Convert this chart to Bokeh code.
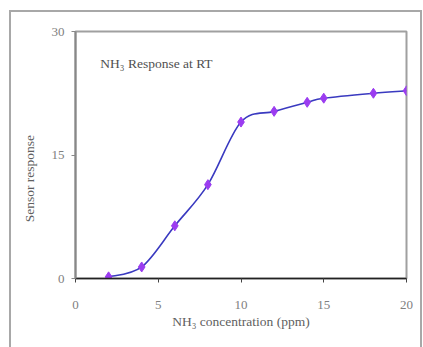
from bokeh.plotting import figure
from bokeh.models import Range1d, FixedTicker, Label, InlineStyleSheet
from bokeh.embed import file_html
from bokeh.resources import INLINE

# data
conc = [2, 4, 6, 8, 10, 12, 14, 15, 18, 20]
response = [0.2, 1.4, 6.4, 11.4, 19.0, 20.3, 21.4, 21.9, 22.5, 22.8]
x_ticks = [0, 5, 10, 15, 20]
y_ticks = [0, 15, 30]

frame_css = InlineStyleSheet(css="""
:host::after {
  content: "";
  position: absolute;
  left: 9px; top: 10px; width: 409px; height: 345px;
  border: 2px solid #a8a8a8;
  pointer-events: none;
  z-index: 10;
}
""")

p = figure(width=423, height=347, output_backend="svg", toolbar_location=None,
           x_range=Range1d(0, 20), y_range=Range1d(0, 30),
           min_border_left=75, min_border_right=17, min_border_top=31, min_border_bottom=69,
           stylesheets=[frame_css])
p.background_fill_color = "white"
p.border_fill_color = "white"
p.outline_line_color = "#a0a0a0"
p.outline_line_width = 2
p.xgrid.visible = False
p.ygrid.visible = False

FONT = "Liberation Serif"

# x axis
xa = p.xaxis[0]
xa.ticker = FixedTicker(ticks=x_ticks)
xa.axis_line_color = "#222222"
xa.axis_line_width = 1.5
xa.major_tick_line_color = "#444444"
xa.major_tick_in = 0
xa.major_tick_out = 4
xa.minor_tick_line_color = None
xa.major_label_standoff = 18
xa.major_label_text_font = FONT
xa.major_label_text_font_size = "13px"
xa.major_label_text_color = "#808080"
xa.axis_label = "NH\u2083 concentration (ppm)"
xa.axis_label_text_font = FONT
xa.axis_label_text_font_size = "13.5px"
xa.axis_label_text_font_style = "normal"
xa.axis_label_text_color = "#606060"
xa.axis_label_standoff = 2

# y axis
ya = p.yaxis[0]
ya.ticker = FixedTicker(ticks=y_ticks)
ya.axis_line_color = "#888888"
ya.axis_line_width = 2
ya.major_tick_line_color = "#888888"
ya.major_tick_in = 0
ya.major_tick_out = 4
ya.minor_tick_line_color = None
ya.major_label_standoff = 7
ya.major_label_text_font = FONT
ya.major_label_text_font_size = "13px"
ya.major_label_text_color = "#808080"
ya.axis_label = "Sensor response" + "\u00a0" * 14
ya.axis_label_text_font = FONT
ya.axis_label_text_font_size = "13.5px"
ya.axis_label_text_font_style = "normal"
ya.axis_label_text_color = "#606060"
ya.axis_label_standoff = 12

# in-plot title
p.add_layout(Label(x=1.5, y=26.1, text="NH\u2083 Response at RT",
                   text_font=FONT, text_font_size="13.5px", text_color="#505050",
                   text_align="left", text_baseline="middle"))

# smoothed curve (Catmull-Rom style Bezier segments between measured points)
n = len(conc)
x0s, y0s, x1s, y1s, cx0, cy0, cx1, cy1 = [], [], [], [], [], [], [], []
for i in range(n - 1):
    xp, yp = (conc[i - 1], response[i - 1]) if i > 0 else (conc[i], response[i])
    xn2, yn2 = (conc[i + 2], response[i + 2]) if i + 2 < n else (conc[i + 1], response[i + 1])
    x0s.append(conc[i]); y0s.append(response[i])
    x1s.append(conc[i + 1]); y1s.append(response[i + 1])
    cx0.append(conc[i] + (conc[i + 1] - xp) / 6.0)
    cy0.append(response[i] + (response[i + 1] - yp) / 6.0)
    cx1.append(conc[i + 1] - (xn2 - conc[i]) / 6.0)
    cy1.append(response[i + 1] - (yn2 - response[i]) / 6.0)

p.bezier(x0=x0s, y0=y0s, x1=x1s, y1=y1s, cx0=cx0, cy0=cy0, cx1=cx1, cy1=cy1,
         line_color="#3a3ac0", line_width=1.6)

p.scatter(conc, response, marker="diamond", size=10,
          fill_color="#9b3cf0", line_color="#9b3cf0")

open("out.html", "w").write(file_html(p, INLINE))
